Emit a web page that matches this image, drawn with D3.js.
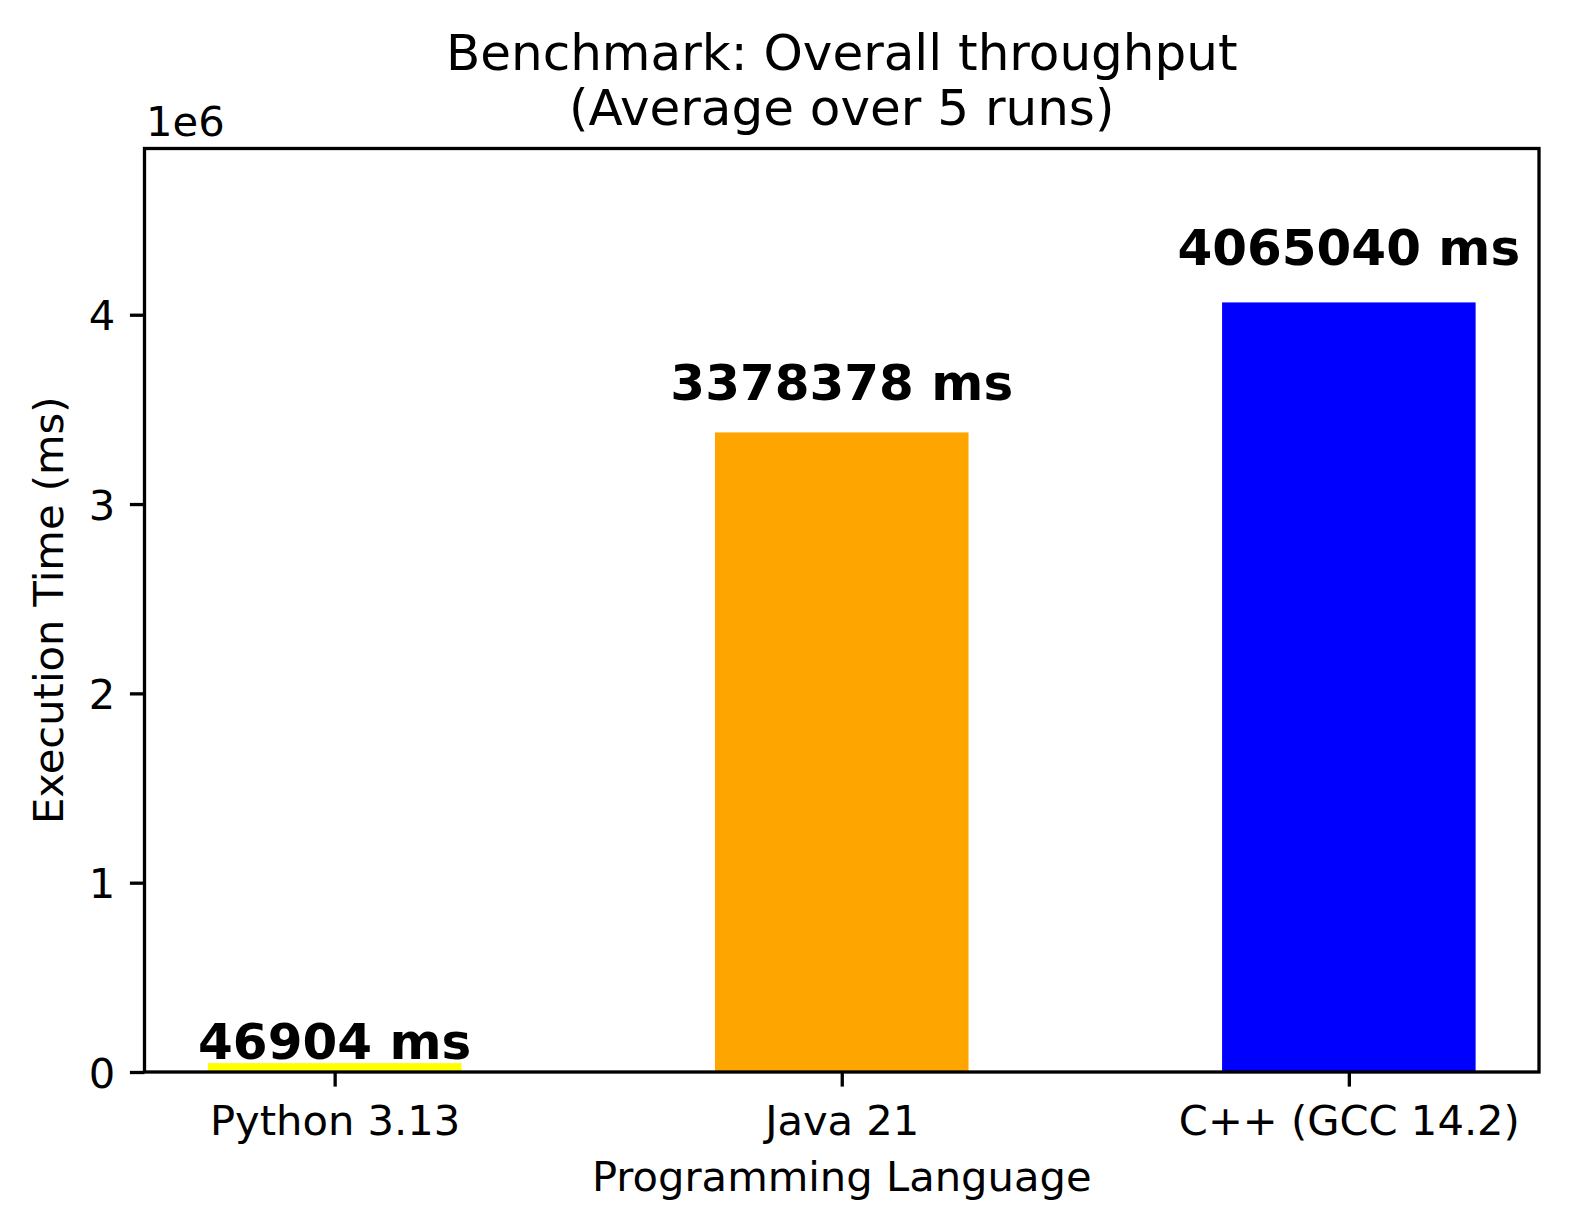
<!DOCTYPE html>
<html>
<head>
<meta charset="utf-8">
<script src="https://cdn.jsdelivr.net/npm/d3@7"></script>
<style>
  html, body { margin: 0; padding: 0; background: white; }
  text { font-family: 'DejaVu Sans', sans-serif; fill: black; }
</style>
</head>
<body>
<div id="chart"></div>
<script>
const languages = ['Python 3.13', 'Java 21', 'C++ (GCC 14.2)']
const times = [46904, 3378378, 4065040]
const barColors = ['#ffff00', '#ffa500', '#0000ff']
const yTicks = [0, 1, 2, 3, 4]

const width = 1569
const height = 1232
const plotLeft = 144.5
const plotRight = 1539
const plotTop = 148.5
const plotBottom = 1072

const svg = d3.select('#chart').append('svg')
  .attr('width', width)
  .attr('height', height)

svg.append('rect')
  .attr('width', width)
  .attr('height', height)
  .attr('fill', 'white')

// matplotlib style: bar width 0.5, 5% margins
const xScale = d3.scaleLinear().domain([-0.375, languages.length - 1 + 0.375]).range([plotLeft, plotRight])
const yMax = d3.max(times) * 1.2
const yScale = d3.scaleLinear().domain([0, yMax]).range([plotBottom, plotTop])
const barWidth = 0.5

const bars = svg.append('g')
bars.selectAll('rect')
  .data(times)
  .join('rect')
  .attr('x', (d, i) => xScale(i - barWidth / 2))
  .attr('width', (d, i) => xScale(i + barWidth / 2) - xScale(i - barWidth / 2))
  .attr('y', d => yScale(d))
  .attr('height', d => yScale(0) - yScale(d))
  .attr('fill', (d, i) => barColors[i])

// value labels
svg.append('g').selectAll('text')
  .data(times)
  .join('text')
  .attr('x', (d, i) => xScale(i))
  .attr('y', d => yScale(d * 1.044) - 4)
  .attr('text-anchor', 'middle')
  .attr('font-size', 50)
  .attr('font-weight', 'bold')
  .text(d => d + ' ms')

// frame
svg.append('rect')
  .attr('x', plotLeft)
  .attr('y', plotTop)
  .attr('width', plotRight - plotLeft)
  .attr('height', plotBottom - plotTop)
  .attr('fill', 'none')
  .attr('stroke', 'black')
  .attr('stroke-width', 3.3)

// y axis
const yAxis = svg.append('g')
  .attr('transform', 'translate(' + plotLeft + ',0)')
  .call(d3.axisLeft(yScale)
    .tickValues(yTicks.map(t => t * 1e6))
    .tickFormat(d => d / 1e6)
    .tickSize(14.6)
    .tickPadding(14.6))
yAxis.select('.domain').remove()
yAxis.selectAll('line').attr('stroke', 'black').attr('stroke-width', 3.3)
yAxis.selectAll('text')
  .attr('font-size', 41.67)
  .attr('font-family', 'DejaVu Sans')
  .attr('fill', 'black')
  .attr('dy', '0.36em')

// x axis
const xAxis = svg.append('g')
  .attr('transform', 'translate(0,' + plotBottom + ')')
  .call(d3.axisBottom(xScale)
    .tickValues(languages.map((d, i) => i))
    .tickFormat(i => languages[i])
    .tickSize(14.6)
    .tickPadding(14.6))
xAxis.select('.domain').remove()
xAxis.selectAll('line').attr('stroke', 'black').attr('stroke-width', 3.3)
xAxis.selectAll('text')
  .attr('font-size', 41.67)
  .attr('font-family', 'DejaVu Sans')
  .attr('fill', 'black')
  .attr('y', 63)
  .attr('dy', 0)

// offset text
svg.append('text')
  .attr('x', 146)
  .attr('y', 136)
  .attr('font-size', 41.67)
  .text('1e6')

// axis labels
svg.append('text')
  .attr('x', (plotLeft + plotRight) / 2)
  .attr('y', 1191)
  .attr('text-anchor', 'middle')
  .attr('font-size', 41.67)
  .text('Programming Language')

svg.append('text')
  .attr('transform', 'translate(63,' + ((plotTop + plotBottom) / 2) + ') rotate(-90)')
  .attr('text-anchor', 'middle')
  .attr('font-size', 41.67)
  .text('Execution Time (ms)')

// title
const title = svg.append('text')
  .attr('text-anchor', 'middle')
  .attr('font-size', 50)
title.append('tspan')
  .attr('x', (plotLeft + plotRight) / 2)
  .attr('y', 70)
  .text('Benchmark: Overall throughput')
title.append('tspan')
  .attr('x', (plotLeft + plotRight) / 2)
  .attr('y', 125)
  .text('(Average over 5 runs)')
</script>
</body>
</html>
